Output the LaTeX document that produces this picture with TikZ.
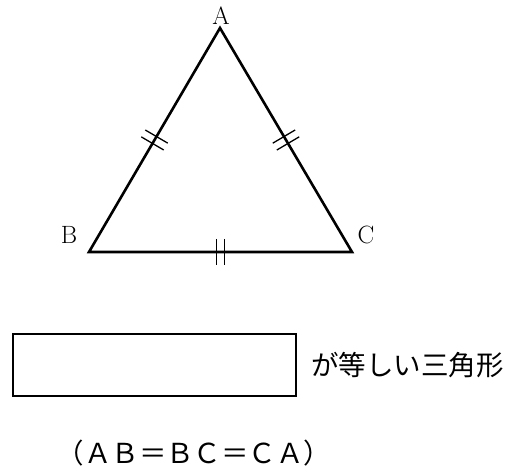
\documentclass[tikz,border=0pt]{standalone}
\usepackage{fontspec}
\newfontfamily\jpfont{Noto Sans CJK JP}
\usetikzlibrary{calc}
\tikzset{
  side/.style={line width=2.6pt, line join=miter},
  tickmark/.style={line width=1.3pt},
  vlabel/.style={font=\fontsize{25}{30}\selectfont, inner sep=0pt},
  jptext/.style={font=\jpfont\fontsize{27.5}{32}\selectfont, inner sep=0pt},
  answerbox/.style={draw, line width=2pt, inner sep=0pt, minimum width=283pt, minimum height=62pt}
}
\begin{document}
\begin{tikzpicture}[x=1pt,y=-1pt]
\useasboundingbox (0,0) rectangle (507,473);
\coordinate (A) at (220,28);
\coordinate (B) at (89,252);
\coordinate (C) at (352,252);
\draw[side] (A) -- (B) -- (C) -- cycle;
\node[vlabel] (lA) at (221,16) {A};
\node[vlabel] (lB) at (69,235) {B};
\node[vlabel] (lC) at (366,235) {C};
\foreach \p/\q in {A/B,B/C,C/A}{
  \path (\p) -- (\q) coordinate[pos=0.4847] (t1\p\q) coordinate[pos=0.5153] (t2\p\q);
  \draw[tickmark] ($(t1\p\q)!13pt!90:(\q)$) -- ($(t1\p\q)!13pt!-90:(\q)$);
  \draw[tickmark] ($(t2\p\q)!13pt!90:(\q)$) -- ($(t2\p\q)!13pt!-90:(\q)$);
}
\node[answerbox, anchor=north west] (box) at (12,333) {};
\node[jptext, anchor=west] (cap) at ([xshift=14pt]box.east) {が等しい三角形};
\node[jptext] (eq) at (194,453) {（ＡＢ＝ＢＣ＝ＣＡ）};
\end{tikzpicture}
\end{document}
